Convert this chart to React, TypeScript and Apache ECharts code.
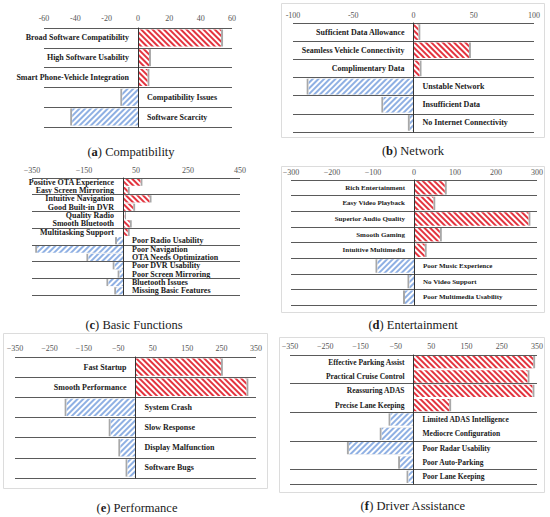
import React, { useEffect, useRef } from "react";
import * as echarts from "echarts";

// ---------- data ----------
const compatCats = [
  "Broad Software Compatibility",
  "High Software Usability",
  "Smart Phone-Vehicle Integration",
  "Compatibility Issues",
  "Software Scarcity",
];
const compatVals = [53, 7, 6, -10, -42];
const compatTicks = [-60, -40, -20, 0, 20, 40, 60];

const networkCats = [
  "Sufficient Data Allowance",
  "Seamless Vehicle Connectivity",
  "Complimentary Data",
  "Unstable Network",
  "Insufficient Data",
  "No Internet Connectivity",
];
const networkVals = [4, 46, 5, -87, -25, -3];
const networkTicks = [-100, -50, 0, 50, 100];

const basicCats = [
  "Positive OTA Experience",
  "Easy Screen Mirroring",
  "Intuitive Navigation",
  "Good Built-in DVR",
  "Quality Radio",
  "Smooth Bluetooth",
  "Multitasking Support",
  "Poor Radio Usability",
  "Poor Navigation",
  "OTA Needs Optimization",
  "Poor DVR Usability",
  "Poor Screen Mirroring",
  "Bluetooth Issues",
  "Missing Basic Features",
];
const basicVals = [67, 18, 102, 39, 5, 26, 18, -23, -330, -133, -32, -13, -56, -26];
const basicTicks = [-350, -150, 50, 250, 450];

const entCats = [
  "Rich Entertainment",
  "Easy Video Playback",
  "Superior Audio Quality",
  "Smooth Gaming",
  "Intuitive Multimedia",
  "Poor Music Experience",
  "No Video Support",
  "Poor Multimedia Usability",
];
const entVals = [75, 47, 279, 63, 26, -89, -11, -22];
const entTicks = [-300, -200, -100, 0, 100, 200, 300];

const perfCats = [
  "Fast Startup",
  "Smooth Performance",
  "System Crash",
  "Slow Response",
  "Display Malfunction",
  "Software Bugs",
];
const perfVals = [248, 322, -200, -72, -44, -23];
const perfTicks = [-350, -250, -150, -50, 50, 150, 250, 350];

const driverCats = [
  "Effective Parking Assist",
  "Practical Cruise Control",
  "Reassuring ADAS",
  "Precise Lane Keeping",
  "Limited ADAS Intelligence",
  "Mediocre Configuration",
  "Poor Radar Usability",
  "Poor Auto-Parking",
  "Poor Lane Keeping",
];
const driverVals = [339, 323, 337, 101, -65, -90, -183, -38, -14];
const driverTicks = [-350, -250, -150, -50, 50, 150, 250, 350];

const panelLetters = ["a", "b", "c", "d", "e", "f"];
const panelTitles = [
  "Compatibility",
  "Network",
  "Basic Functions",
  "Entertainment",
  "Performance",
  "Driver Assistance",
];

// ---------- layout / style ----------
const FONT = "'Liberation Serif', 'DejaVu Serif', serif";

const panels = [
  { cats: compatCats, vals: compatVals, ticks: compatTicks, grid: { left: 44, top: 28, width: 188, height: 99 }, labelSize: 8, margin: 6, minus: "-", title: [131, 152], box: null },
  { cats: networkCats, vals: networkVals, ticks: networkTicks, grid: { left: 293, top: 23, width: 241, height: 109 }, labelSize: 8, margin: 4, minus: "-", title: [413, 151], box: [281, 3, 263, 134] },
  { cats: basicCats, vals: basicVals, ticks: basicTicks, grid: { left: 32, top: 178, width: 208, height: 117 }, labelSize: 8, margin: 4, minus: "\u2212", title: [134, 325], box: null },
  { cats: entCats, vals: entVals, ticks: entTicks, grid: { left: 291, top: 180, width: 246, height: 125 }, labelSize: 7, margin: 4, minus: "\u2212", title: [413, 325], box: [281, 166, 263, 146] },
  { cats: perfCats, vals: perfVals, ticks: perfTicks, grid: { left: 15, top: 357, width: 241, height: 121 }, labelSize: 8, margin: 5, minus: "\u2212", title: [137, 508], box: [3, 333, 264, 155] },
  { cats: driverCats, vals: driverVals, ticks: driverTicks, grid: { left: 290, top: 355, width: 247, height: 129 }, labelSize: 7.5, margin: 5, minus: "\u2212", title: [413, 506], box: [279, 337, 265, 155] },
];

const decalBase = {
  symbol: "rect",
  symbolSize: 1,
  dashArrayX: [1, 0],
  dashArrayY: [1.6, 1.3],
};
const posStyle = {
  color: "#ffffff",
  decal: { ...decalBase, rotation: Math.PI / 4, color: "#e3343f" },
};
const negStyle = {
  color: "#ffffff",
  decal: { ...decalBase, rotation: -Math.PI / 4, color: "#8fb0e3" },
};
const posCap = { color: "#ffffff", shadowColor: "#a8a8a8", shadowBlur: 0, shadowOffsetX: 2 };
const negCap = { color: "#ffffff", shadowColor: "#a8a8a8", shadowBlur: 0, shadowOffsetX: -2 };

function buildOption() {
  const graphic: any[] = [];
  panels.forEach((p, i) => {
    if (p.box) {
      graphic.push({
        type: "rect",
        shape: { x: p.box[0] + 0.5, y: p.box[1] + 0.5, width: p.box[2], height: p.box[3] },
        style: { fill: "none", stroke: "#dcdcdc", lineWidth: 1 },
        silent: true,
        z: -1,
      });
    }
    graphic.push({
      type: "text",
      x: p.title[0],
      y: p.title[1],
      style: {
        text: "({b|" + panelLetters[i] + "}) " + panelTitles[i],
        rich: { b: { fontWeight: "bold", fontSize: 12.5, fontFamily: FONT, fill: "#1a1a1a" } },
        fontSize: 12.5,
        fontFamily: FONT,
        fill: "#1a1a1a",
        align: "center",
        verticalAlign: "middle",
      },
    });
  });

  const series: any[] = [];
  panels.forEach((p, i) => {
    series.push({
      type: "bar",
      xAxisIndex: i,
      yAxisIndex: i,
      barCategoryGap: "14%",
      barGap: "-100%",
      z: 1,
      silent: true,
      data: p.vals.map((v) => ({ value: v, itemStyle: v >= 0 ? posCap : negCap })),
    });
    series.push({
      type: "bar",
      xAxisIndex: i,
      yAxisIndex: i,
      barCategoryGap: "14%",
      barGap: "-100%",
      z: 2,
      data: p.vals.map((v) => ({
        value: v,
        itemStyle: v >= 0 ? posStyle : negStyle,
        label: { position: v >= 0 ? "left" : "right" },
      })),
      label: {
        show: true,
        formatter: "{b}",
        distance: 9,
        color: "#1a1a1a",
        fontFamily: FONT,
        fontWeight: "bold",
        fontSize: p.labelSize,
      },
    });
  });

  return {
    animation: false,
    backgroundColor: "#ffffff",
    grid: panels.map((p) => ({ ...p.grid, containLabel: false })),
    xAxis: panels.map((p, i) => ({
      type: "value",
      gridIndex: i,
      position: "top",
      min: p.ticks[0],
      max: p.ticks[p.ticks.length - 1],
      axisLine: { show: false },
      axisTick: { show: false },
      splitLine: { show: false },
      axisLabel: {
        customValues: p.ticks,
        margin: p.margin,
        fontSize: 8,
        fontFamily: FONT,
        color: "#555555",
        formatter: (v: number) => String(v).replace("-", p.minus),
      },
    })),
    yAxis: panels.map((p, i) => ({
      type: "category",
      gridIndex: i,
      data: p.cats,
      inverse: true,
      z: 5,
      axisLine: { show: true, onZero: true, lineStyle: { color: "#333", width: 1 } },
      axisTick: { show: false },
      axisLabel: { show: false },
      splitLine: { show: true, lineStyle: { color: "#5a5a5a", width: 1.2 } },
    })),
    series,
    graphic,
  };
}

export default function App() {
  const ref = useRef<HTMLDivElement>(null);
  useEffect(() => {
    if (!ref.current) return;
    const chart = echarts.init(ref.current, undefined, { renderer: "svg" });
    chart.setOption(buildOption() as any);
    return () => chart.dispose();
  }, []);
  return (
    <div
      ref={ref}
      style={{ position: "fixed", left: 0, top: 0, width: 550, height: 517, background: "#fff" }}
    />
  );
}
